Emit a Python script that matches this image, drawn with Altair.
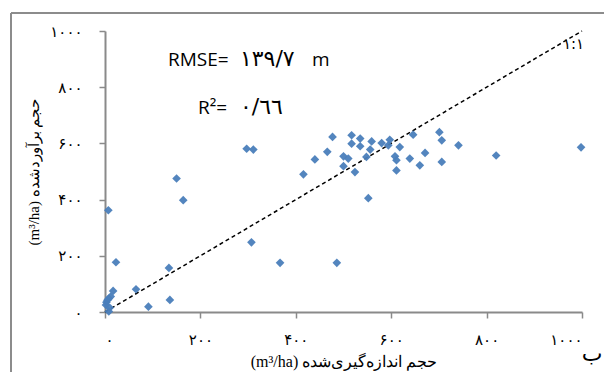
import altair as alt
import pandas as pd

# measured (x) vs estimated (y) volume, m3/ha
measured = [2, 3, 5, 8, 12, 10, 8, 17, 7, 23, 65, 91, 136, 134, 150, 164,
            297, 311, 307, 367, 486,
            416, 440, 466, 477, 500, 500, 510, 517, 517, 535, 535, 524, 548, 552,
            556, 559, 580, 597, 594, 608, 611, 611, 618, 639, 646, 660, 671,
            701, 706, 706, 741, 820, 998]
estimated = [25, 35, 42, 48, 55, 15, 2, 75, 362, 177, 81, 19, 43, 157, 475, 398,
             581, 578, 248, 175, 175,
             490, 543, 570, 623, 554, 519, 546, 629, 599, 617, 590, 498, 552, 405,
             578, 607, 601, 613, 593, 554, 540, 504, 587, 546, 631, 522, 566,
             640, 611, 534, 593, 557, 586]

tick_values = [0, 200, 400, 600, 800, 1000]
tick_labels = ["۰", "۲۰۰", "۴۰۰", "۶۰۰", "۸۰۰", "۱۰۰۰"]

line_x = [0, 1000]
line_y = [0, 1000]

x_title = "(m³/ha) حجم اندازه‌گیری‌شده"
y_title = "(m³/ha) حجم برآوردشده"
rmse_label = "RMSE="
rmse_value = "۱۳۹/۷"
rmse_unit = "m"
r2_label = "R²="
r2_value = "٠/٦٦"
one_one_text = "۱:۱"
panel_letter = "ب"

label_expr = "".join(
    f"datum.value == {v} ? '{l}' : " for v, l in zip(tick_values, tick_labels)
) + "datum.label"

pts = pd.DataFrame({"x": measured, "y": estimated})
line_df = pd.DataFrame({"x": line_x, "y": line_y})

xscale = alt.Scale(domain=[0, 1000], nice=False, zero=True)
yscale = alt.Scale(domain=[0, 1000], nice=False, zero=True)

axis_common = dict(
    values=tick_values, labelExpr=label_expr, grid=False,
    domainColor="#8a8a8a", domainWidth=2, tickColor="#8a8a8a", tickWidth=1.5,
    tickSize=6, labelFontSize=15, labelColor="black", labelFont="DejaVu Sans",
    titleFont="Liberation Serif", titleFontWeight="normal",
    titleColor="black",
)

xaxis = alt.Axis(title=x_title, labelPadding=14, titlePadding=6,
                 titleFontSize=16, **axis_common)
yaxis = alt.Axis(title=y_title, labelPadding=17, titlePadding=8,
                 titleFontSize=15, **axis_common)

base_one = alt.Chart(pd.DataFrame({"a": [0]}))

frame_left = base_one.mark_rule(color="#8c8c8c", strokeWidth=2).encode(
    x=alt.value(-94), y=alt.value(-18), y2=alt.value(420))
frame_top = base_one.mark_rule(color="#8c8c8c", strokeWidth=2).encode(
    x=alt.value(-94), x2=alt.value(620), y=alt.value(-18))

diag = alt.Chart(line_df).mark_line(
    color="black", strokeDash=[4, 3], strokeWidth=1.5
).encode(
    x=alt.X("x:Q", scale=xscale, axis=xaxis),
    y=alt.Y("y:Q", scale=yscale, axis=yaxis),
)

points = alt.Chart(pts).mark_point(
    shape="diamond", filled=True, size=75, color="#4a7ebb", opacity=0.95
).encode(
    x=alt.X("x:Q", scale=xscale),
    y=alt.Y("y:Q", scale=yscale),
)


def txt(text, x, y, size, font):
    return base_one.mark_text(
        text=text, align="left", baseline="alphabetic", fontSize=size,
        font=font, color="black"
    ).encode(x=alt.datum(x), y=alt.datum(y))


rmse_a = txt(rmse_label, 132, 874, 19, "Open Sans")
rmse_b = txt(rmse_value, 283, 874, 22, "DejaVu Sans")
rmse_c = txt(rmse_unit, 434, 874, 19, "Open Sans")
r2_a = txt(r2_label, 195, 703, 19, "Open Sans")
r2_b = txt(r2_value, 283, 703, 22, "DejaVu Sans")

one_one = base_one.mark_text(
    text=one_one_text, align="left", baseline="middle", fontSize=15,
    font="DejaVu Sans", color="black"
).encode(x=alt.datum(960), y=alt.datum(952))

letter = base_one.mark_text(
    text=panel_letter, align="center", baseline="middle", fontSize=22,
    font="DejaVu Sans", color="black", dx=10
).encode(x=alt.datum(1000), y=alt.value(323))

chart = alt.layer(
    frame_left, frame_top, diag, points, rmse_a, rmse_b, rmse_c, r2_a, r2_b,
    one_one, letter
).properties(
    width=477, height=281,
    autosize=alt.AutoSizeParams(type="none"),
    padding={"left": 97, "top": 23, "right": 22, "bottom": 60},
).configure_view(strokeOpacity=0)

chart.save("out.html", embed_options={"renderer": "svg", "actions": False})
